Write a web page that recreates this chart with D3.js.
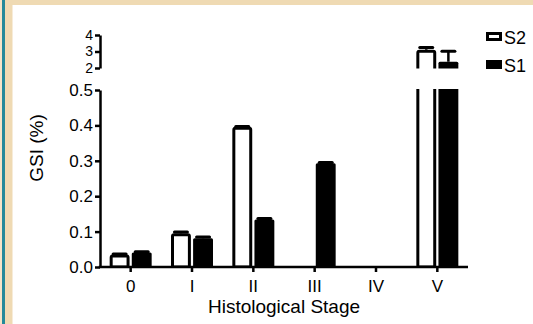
<!DOCTYPE html>
<html><head><meta charset="utf-8">
<script src="https://cdn.jsdelivr.net/npm/d3@7"></script>
<style>
html,body{margin:0;padding:0;background:#fff;}
svg{display:block;font-family:"Liberation Sans",Arial,sans-serif;}
</style></head>
<body><svg id="c" width="533" height="324"></svg>
<script>
// ---- data ----
const categories = ["0","I","II","III","IV","V"];
const seriesNames = ["S2","S1"];
const s2Means = [0.035, 0.095, 0.396, null, null, 3.10];
const s2Errors = [0.002, 0.004, 0.001, null, null, 0.15];
const s1Means = [0.041, 0.081, 0.134, 0.293, null, 2.38];
const s1Errors = [0.002, 0.004, 0.003, 0.002, null, 0.63];
const lowerTicks = [0, 0.1, 0.2, 0.3, 0.4, 0.5];
const upperTicks = [2, 3, 4];
const lowerDomain = [0, 0.5];
const upperDomain = [2, 4];

const svg = d3.select("#c");
// page decoration
svg.append("rect").attr("x",0).attr("y",0).attr("width",533).attr("height",5).attr("fill","#efdab3");
svg.append("rect").attr("x",0).attr("y",0).attr("width",2).attr("height",324).attr("fill","#f3e4c8");
svg.append("rect").attr("x",2).attr("y",0).attr("width",3).attr("height",324).attr("fill","#23899a");
svg.append("rect").attr("x",5).attr("y",0).attr("width",7).attr("height",324).attr("fill","#efdab3");
svg.append("rect").attr("x",12).attr("y",5).attr("width",1).attr("height",319).attr("fill","#f7ecd9");

const x0 = 100, x1 = 468, base = 267;
const x = d3.scaleBand().domain(categories).range([x0, x1]).padding(0);
const xs = d3.scaleBand().domain(seriesNames).range([-21, 21]).paddingInner(0.1);
const yLo = d3.scaleLinear().domain(lowerDomain).range([base, 90]);
const yHi = d3.scaleLinear().domain(upperDomain).range([68, 35]);

const defs = svg.append("defs");
defs.append("clipPath").attr("id","clipLo").append("rect")
  .attr("x",0).attr("y",yLo(0.5)-1).attr("width",533).attr("height",base - yLo(0.5) + 1);
defs.append("clipPath").attr("id","clipHi").append("rect")
  .attr("x",0).attr("y",0).attr("width",533).attr("height",yHi(2)+0.5);

const rows = [];
categories.forEach((c,i)=>{
  if (s2Means[i] != null) rows.push({cat:c, s:"S2", v:s2Means[i], e:s2Errors[i]});
  if (s1Means[i] != null) rows.push({cat:c, s:"S1", v:s1Means[i], e:s1Errors[i]});
});

function drawPanel(y, clip, bottomVal) {
  const g = svg.append("g").attr("clip-path", `url(#${clip})`);
  const bw = xs.bandwidth();
  // error bars
  rows.forEach(d=>{
    const cx = x(d.cat) + x.bandwidth()/2 + xs(d.s) + bw/2;
    g.append("line").attr("x1",cx).attr("x2",cx).attr("y1",y(d.v)).attr("y2",y(d.v+d.e))
      .attr("stroke","#000").attr("stroke-width",2.5);
    g.append("line").attr("x1",cx-6.5).attr("x2",cx+6.5).attr("y1",y(d.v+d.e)).attr("y2",y(d.v+d.e))
      .attr("stroke","#000").attr("stroke-width",3).attr("stroke-linecap","round");
  });
  rows.forEach(d=>{
    const bx = x(d.cat) + x.bandwidth()/2 + xs(d.s);
    const top = y(d.v), bot = y(bottomVal);
    if (d.s === "S2") {
      g.append("rect").attr("x",bx+1.5).attr("y",top+1.5).attr("width",bw-3).attr("height",Math.max(0,bot-top-1.5))
        .attr("fill","#fff").attr("stroke","#000").attr("stroke-width",3).attr("rx",1.5);
    } else {
      g.append("rect").attr("x",bx).attr("y",top).attr("width",bw).attr("height",Math.max(0,bot-top))
        .attr("fill","#000").attr("rx",1.5);
    }
  });
}
drawPanel(yLo, "clipLo", 0);
drawPanel(yHi, "clipHi", 0);

// axes
function styleAxis(g, fs){
  g.selectAll("path.domain").attr("stroke","#000").attr("stroke-width",2.5);
  g.selectAll(".tick line").attr("stroke","#000").attr("stroke-width",2.5);
  g.selectAll(".tick text").attr("fill","#000").attr("font-size",fs)
    .attr("font-family","'Liberation Sans',Arial,sans-serif");
}
const gLo = svg.append("g").attr("transform",`translate(${x0},0)`)
  .call(d3.axisLeft(yLo).tickValues(lowerTicks).tickFormat(d3.format(".1f")).tickSize(5).tickSizeOuter(0).tickPadding(2));
styleAxis(gLo, 17);
const gHi = svg.append("g").attr("transform",`translate(${x0},0)`)
  .call(d3.axisLeft(yHi).tickValues(upperTicks).tickFormat(d3.format("d")).tickSize(5).tickSizeOuter(0).tickPadding(2));
styleAxis(gHi, 14);
const gx = svg.append("g").attr("transform",`translate(0,${base})`)
  .call(d3.axisBottom(x).tickSize(5).tickSizeOuter(0).tickPadding(8));
styleAxis(gx, 17);
gx.select("path.domain").attr("d",`M${x0-1.25},0H${x1}`);

// titles
svg.append("text").attr("x",(x0+x1)/2).attr("y",313).attr("text-anchor","middle")
  .attr("font-size",19).text("Histological Stage");
svg.append("text").attr("transform","translate(43,148) rotate(-90)").attr("text-anchor","middle")
  .attr("font-size",19).text("GSI (%)");

// legend
const leg = svg.append("g");
seriesNames.forEach((s,i)=>{
  const ly = 37 + i*28;
  if (s === "S2") {
    leg.append("rect").attr("x",487.5).attr("y",ly-3.5).attr("width",13).attr("height",6)
      .attr("fill","#fff").attr("stroke","#000").attr("stroke-width",3);
  } else {
    leg.append("rect").attr("x",486).attr("y",ly-5).attr("width",16).attr("height",9).attr("fill","#000");
  }
  leg.append("text").attr("x",504).attr("y",ly+6.5).attr("font-size",18).text(s);
});
</script>
</body></html>
